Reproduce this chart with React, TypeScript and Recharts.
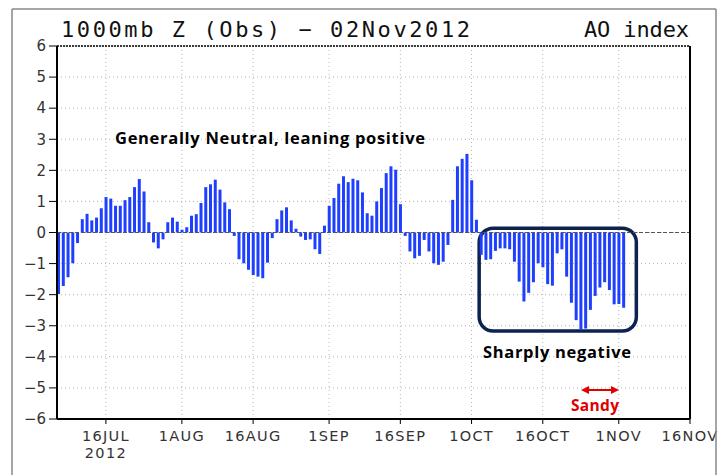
import React from 'react';
import {
  BarChart,
  Bar,
  XAxis,
  YAxis,
  CartesianGrid,
  ReferenceLine,
  ReferenceArea,
} from 'recharts';

// daily AO index, 6 Jul 2012 .. 2 Nov 2012 (day 0 = 6 Jul)
const AO_VALUES = [
  -1.98, -1.72, -1.44, -0.99, -0.34, 0.43, 0.6, 0.39, 0.48, 0.78,
  1.14, 1.09, 0.86, 0.86, 1.04, 1.14, 1.46, 1.72, 1.32, 0.33,
  -0.32, -0.51, -0.22, 0.33, 0.48, 0.35, 0.09, 0.17, 0.54, 0.59,
  0.95, 1.46, 1.55, 1.7, 1.38, 0.97, 0.75, -0.11, -0.86, -0.99,
  -1.2, -1.37, -1.42, -1.47, -0.97, -0.18, 0.43, 0.71, 0.81, 0.39,
  0.12, -0.13, -0.24, -0.22, -0.54, -0.69, 0.22, 0.86, 1.11, 1.57,
  1.81, 1.62, 1.73, 1.68, 1.29, 0.62, 0.54, 1.0, 1.43, 1.91,
  2.13, 2.02, 0.91, -0.11, -0.61, -0.83, -0.75, -0.24, -0.61, -0.99,
  -1.04, -0.94, -0.4, 1.05, 2.13, 2.37, 2.53, 1.68, 0.41, -0.72,
  -0.88, -0.86, -0.59, -0.51, -0.51, -0.54, -0.94, -1.58, -2.22, -1.94,
  -1.6, -0.99, -1.12, -1.66, -1.71, -0.67, -0.54, -1.42, -2.26, -2.82,
  -3.12, -3.09, -2.49, -2.04, -1.77, -1.6, -1.85, -2.31, -2.3, -2.42,
];

const TICK_DAYS = [10, 26, 41, 57, 72, 87, 102, 118, 133];
const TICK_LABELS = ['16JUL', '1AUG', '16AUG', '1SEP', '16SEP', '1OCT', '16OCT', '1NOV', '16NOV'];
const Y_TICKS = [-6, -5, -4, -3, -2, -1, 0, 1, 2, 3, 4, 5, 6];

const data = AO_VALUES.map((v, i) => ({ day: i, ao: v }));

const AXIS_FONT = 'DejaVu Sans, sans-serif';
const TITLE_FONT = '"DejaVu Sans Mono", monospace';
const NOTE_FONT = '"Open Sans", Lato, sans-serif';

function DateTick(props: any) {
  const { x, y, payload } = props;
  const idx = TICK_DAYS.indexOf(payload.value);
  return (
    <g>
      <text x={x} y={y + 15} textAnchor="middle" fontFamily={AXIS_FONT} fontSize={14.5}
        letterSpacing={1.3} fill="#333">
        {TICK_LABELS[idx]}
      </text>
      {idx === 0 && (
        <text x={x} y={y + 32} textAnchor="middle" fontFamily={AXIS_FONT} fontSize={14.5}
          letterSpacing={1.3} fill="#333">
          2012
        </text>
      )}
    </g>
  );
}

function RoundBox(props: any) {
  const { x, y, width, height } = props;
  return (
    <rect x={x} y={y} width={width} height={height} rx={14} ry={14}
      fill="none" stroke="#0c2350" strokeWidth={3.5} />
  );
}

export default function App() {
  return (
    <div style={{ position: 'absolute', left: 0, top: 0, width: 722, height: 475, background: '#fff', overflow: 'hidden' }}>
      <BarChart
        width={722}
        height={475}
        data={data}
        margin={{ top: 46, right: 32, bottom: 0, left: 0 }}
        barSize={3}
      >
        <CartesianGrid stroke="#b5b5b5" strokeDasharray="1 3" />
        <XAxis
          dataKey="day"
          type="number"
          domain={[-0.3, 133]}
          allowDataOverflow
          ticks={TICK_DAYS}
          interval={0}
          height={56}
          tick={<DateTick />}
          tickSize={5}
          axisLine={{ stroke: '#000', strokeWidth: 2 }}
          tickLine={{ stroke: '#000' }}
        />
        <YAxis
          type="number"
          domain={[-6, 6]}
          ticks={Y_TICKS}
          interval={0}
          width={57}
          tickSize={8}
          tickMargin={3}
          tickFormatter={(v: number) => (v < 0 ? '\u2212' + -v : String(v))}
          tick={{ fontFamily: AXIS_FONT, fontSize: 15, fill: '#333' }}
          axisLine={{ stroke: '#000', strokeWidth: 2 }}
          tickLine={{ stroke: '#000' }}
        />
        <ReferenceLine y={0} stroke="#555" strokeDasharray="4 2" />
        <ReferenceLine y={6} stroke="#000" strokeWidth={1.5} strokeDasharray="2 1" />
        <ReferenceLine x={133} stroke="#000" strokeWidth={2} />
        <Bar dataKey="ao" fill="#1f3fff" isAnimationActive={false} />
        <ReferenceArea x1={88.6} x2={121.7} y1={0.14} y2={-3.17} shape={<RoundBox />} ifOverflow="visible" />
      </BarChart>
      <svg
        width={722}
        height={475}
        style={{ position: 'absolute', left: 0, top: 0, pointerEvents: 'none' }}
      >
        <defs>
          <marker id="ah" viewBox="0 0 10 10" refX="5" refY="5" markerWidth="4" markerHeight="4" orient="auto-start-reverse">
            <path d="M0,0 L10,5 L0,10 z" fill="#e00000" />
          </marker>
        </defs>
        <line x1={12} y1={9} x2={716} y2={9} stroke="#888" strokeWidth={1.5} />
        <line x1={12} y1={9} x2={12} y2={475} stroke="#888" strokeWidth={1.5} />
        <line x1={716} y1={9} x2={716} y2={475} stroke="#888" strokeWidth={1.5} />
        <text x={61} y={37} fontFamily={TITLE_FONT} fontSize={22} fill="#111" textLength={409} lengthAdjust="spacing">
          1000mb Z (Obs) {'\u2212'} 02Nov2012
        </text>
        <text x={584} y={37} fontFamily={TITLE_FONT} fontSize={22} fill="#111" textLength={105} lengthAdjust="spacing">
          AO index
        </text>
        <text x={115} y={144} fontFamily={NOTE_FONT} fontWeight="bold" fontSize={16.5} fill="#000"
          textLength={310} lengthAdjust="spacing">
          Generally Neutral, leaning positive
        </text>
        <text x={483} y={358} fontFamily={NOTE_FONT} fontWeight="bold" fontSize={16.5} fill="#000"
          textLength={148} lengthAdjust="spacing">
          Sharply negative
        </text>
        <line x1={585} y1={390} x2={615} y2={390} stroke="#e00000" strokeWidth={2}
          markerStart="url(#ah)" markerEnd="url(#ah)" />
        <text x={571} y={411} fontFamily={NOTE_FONT} fontWeight="bold" fontSize={15.5} fill="#e00000"
          textLength={48} lengthAdjust="spacing">
          Sandy
        </text>
      </svg>
    </div>
  );
}
